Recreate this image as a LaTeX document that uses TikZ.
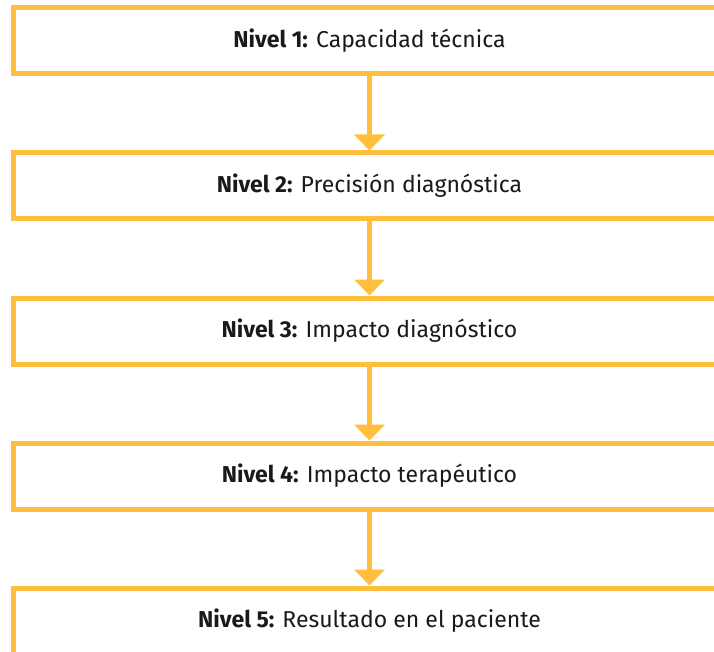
\documentclass[tikz,border=0pt]{standalone}
\usepackage{fontspec}
\setmainfont{Fira Sans}
\usepackage{xcolor}
\usetikzlibrary{positioning,arrows.meta}
\definecolor{levelorange}{RGB}{255,190,60}
\definecolor{textdark}{RGB}{26,26,26}

\begin{document}
\begin{tikzpicture}[x=1pt,y=1pt,node distance=79pt]
    \tikzstyle{levelbox} = [rectangle, draw=levelorange, line width=5pt, fill=white, minimum width=713pt, minimum height=66pt, outer sep=0pt, text=textdark, font=\fontsize{23}{27}\selectfont]
    \tikzstyle{levelarrow} = [draw=levelorange, line width=5pt, -{Triangle[width=30pt,length=16pt]}, shorten >=2.5pt]

    \useasboundingbox (0,0) rectangle (714,-652);
    \clip (0,0) rectangle (714,-652);

    \node [levelbox, anchor=north west] (nivel1) at (13,-8) {\textbf{Nivel 1:} Capacidad técnica};
    \node [levelbox, below=of nivel1] (nivel2) {\textbf{Nivel 2:} Precisión diagnóstica};
    \node [levelbox, below=of nivel2] (nivel3) {\textbf{Nivel 3:} Impacto diagnóstico};
    \node [levelbox, below=of nivel3] (nivel4) {\textbf{Nivel 4:} Impacto terapéutico};
    \node [levelbox, below=of nivel4] (nivel5) {\textbf{Nivel 5:} Resultado en el paciente};

    % Arrows
    \draw [levelarrow] (nivel1.south) -- (nivel2.north);
    \draw [levelarrow] (nivel2.south) -- (nivel3.north);
    \draw [levelarrow] (nivel3.south) -- (nivel4.north);
    \draw [levelarrow] (nivel4.south) -- (nivel5.north);
\end{tikzpicture}
\end{document}
